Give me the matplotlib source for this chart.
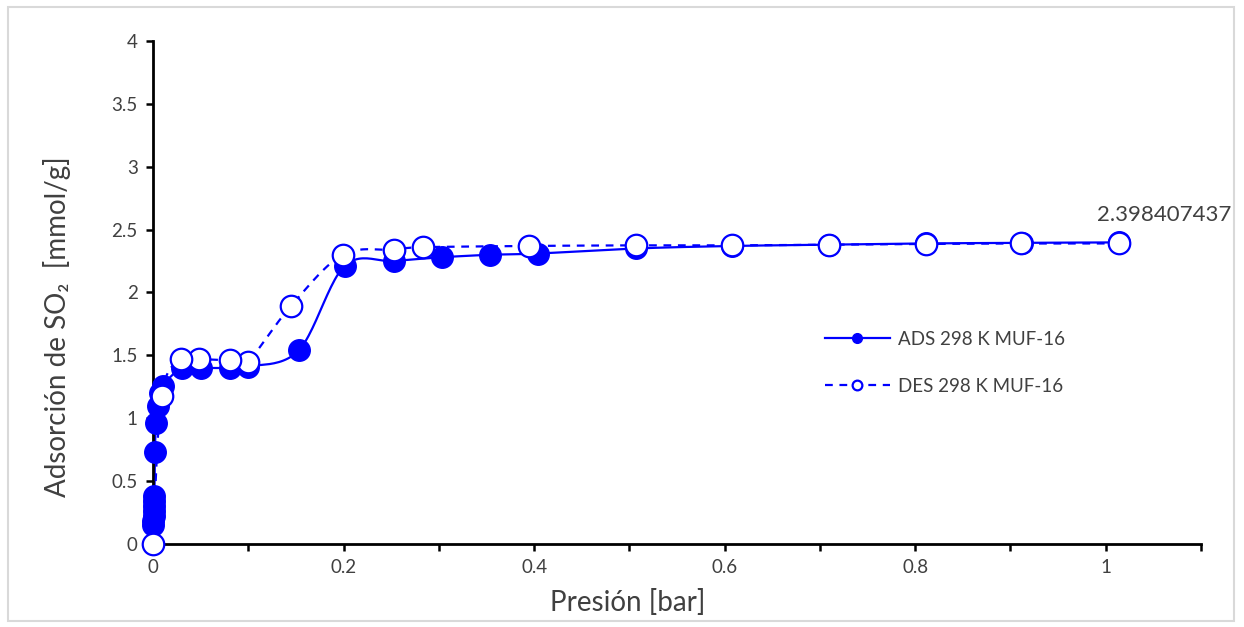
import numpy as np
import matplotlib
matplotlib.use("Agg")
import matplotlib.pyplot as plt
from matplotlib.lines import Line2D
from matplotlib.patches import Rectangle

# Adsorption branch (filled markers)
ads_p = [0.0002, 0.0004, 0.0006, 0.0008, 0.0010, 0.0012, 0.0015,
         0.002, 0.003, 0.005, 0.007, 0.010,
         0.030, 0.050, 0.081, 0.100, 0.153, 0.201, 0.253, 0.303,
         0.354, 0.404, 0.507, 0.608, 0.710, 0.811, 0.912, 1.014]
ads_q = [0.15, 0.18, 0.22, 0.26, 0.30, 0.34, 0.38,
         0.73, 0.96, 1.10, 1.20, 1.26,
         1.40, 1.40, 1.40, 1.41, 1.54, 2.21, 2.25, 2.28,
         2.30, 2.31, 2.35, 2.37, 2.38, 2.39, 2.395, 2.398407437]

# Desorption branch (open markers), from high to low pressure
des_p = [1.014, 0.9115, 0.811, 0.710, 0.608, 0.507, 0.395, 0.283, 0.253,
         0.199, 0.1445, 0.0993, 0.0808, 0.0486, 0.0294, 0.009, 0.0]
des_q = [2.39, 2.39, 2.386, 2.38, 2.375, 2.375, 2.37, 2.36, 2.34,
         2.30, 1.89, 1.45, 1.46, 1.47, 1.47, 1.18, 0.0]

ads_label = "ADS 298 K MUF-16"
des_label = "DES 298 K MUF-16"
x_ticks = [0, 0.1, 0.2, 0.3, 0.4, 0.5, 0.6, 0.7, 0.8, 0.9, 1.0, 1.1]
x_ticklabels = ["0", "", "0.2", "", "0.4", "", "0.6", "", "0.8", "", "1", ""]
y_ticks = [0, 0.5, 1, 1.5, 2, 2.5, 3, 3.5, 4]
y_ticklabels = ["0", "0.5", "1", "1.5", "2", "2.5", "3", "3.5", "4"]

BLUE = "#0000FF"
GRAY = "#404040"
FONT = ["Lato", "DejaVu Sans"]
plt.rcParams["font.family"] = FONT


def smooth(xs, ys, n=24):
    """Catmull-Rom curve through the points, like a spreadsheet smoothed line."""
    pts = np.column_stack([xs, ys]).astype(float)
    ext = np.vstack([pts[0], pts, pts[-1]])
    out = []
    t = np.linspace(0, 1, n, endpoint=False)[:, None]
    for i in range(1, len(ext) - 2):
        p0, p1, p2, p3 = ext[i - 1], ext[i], ext[i + 1], ext[i + 2]
        c1 = p1 + (p2 - p0) / 6.0
        c2 = p2 - (p3 - p1) / 6.0
        seg = ((1 - t) ** 3) * p1 + 3 * ((1 - t) ** 2) * t * c1 \
            + 3 * (1 - t) * t ** 2 * c2 + t ** 3 * p2
        out.append(seg)
    out.append(pts[-1][None, :])
    curve = np.vstack(out)
    return curve[:, 0], curve[:, 1]


fig = plt.figure(figsize=(12.44, 6.27), dpi=100)
ax = fig.add_axes([0.123, 0.1324, 0.8424, 0.8022])

# Chart border
fig.patches.append(Rectangle((8 / 1244, 6 / 627), 1226 / 1244, 614 / 627,
                             transform=fig.transFigure, fill=False,
                             edgecolor="#d9d9d9", linewidth=1.5))

sx, sy = smooth(ads_p, ads_q)
ax.plot(sx, sy, color=BLUE, lw=1.6, zorder=2, clip_on=False)
ax.plot(ads_p, ads_q, linestyle="none", marker="o", ms=15.5,
        mfc=BLUE, mec=BLUE, zorder=3, clip_on=False)

dx, dy = smooth(des_p, des_q)
ax.plot(dx, dy, color=BLUE, lw=1.6, dashes=(3.5, 3), zorder=4, clip_on=False)
ax.plot(des_p, des_q, linestyle="none", marker="o", ms=15.5,
        mfc="white", mec=BLUE, mew=1.6, zorder=5, clip_on=False)

ax.annotate("2.398407437", xy=(ads_p[-1], ads_q[-1]), xytext=(-16, 20),
            textcoords="offset points", ha="left", va="center",
            fontsize=16, color=GRAY, family=FONT)

ax.set_xlim(0, 1.1)
ax.set_ylim(0, 4)
ax.set_xticks(x_ticks)
ax.set_xticklabels(x_ticklabels)
ax.set_yticks(y_ticks)
ax.set_yticklabels(y_ticklabels)
ax.tick_params(direction="out", length=5, width=1.8, colors="black",
               labelcolor=GRAY, labelsize=13.5, pad=6)

for side in ("top", "right"):
    ax.spines[side].set_visible(False)
for side in ("left", "bottom"):
    ax.spines[side].set_linewidth(2)
    ax.spines[side].set_color("black")

ax.set_xlabel("Presión [bar]", fontsize=20, color=GRAY)
ax.xaxis.set_label_coords(0.453, -0.117)
ax.xaxis.label.set_verticalalignment("center")
ax.set_ylabel("Adsorción de SO₂  [mmol/g]", fontsize=20, color=GRAY)
ax.yaxis.set_label_coords(-0.0916, 0.433)
ax.yaxis.label.set_verticalalignment("center")

handles = [
    Line2D([], [], color=BLUE, lw=1.6, marker="o", ms=7, mfc=BLUE, mec=BLUE),
    Line2D([], [], color=BLUE, lw=1.6, dashes=(3.5, 3), marker="o", ms=7,
           mfc="white", mec=BLUE, mew=1.6),
]
ax.legend(handles, [ads_label, des_label], loc="upper left",
          bbox_to_anchor=(0.641, 0.4235), frameon=False, fontsize=13.5,
          handlelength=3.47, handletextpad=0.43, labelspacing=1.58,
          borderpad=0, borderaxespad=0, labelcolor=GRAY)

fig.savefig("out.png", dpi=100)
